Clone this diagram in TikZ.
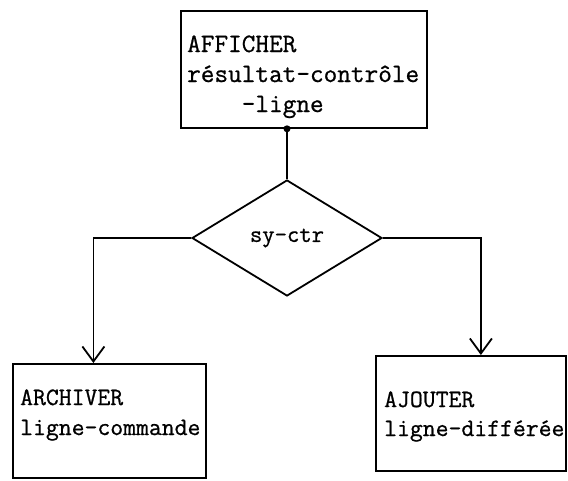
\documentclass[tikz,border=0pt]{standalone}
\usepackage{fontspec}
\newfontfamily\twfont{Latin Modern Mono}[UprightFeatures={FakeBold=0.8}]
\usetikzlibrary{arrows.meta,shapes.geometric}
\begin{document}
\begin{tikzpicture}[x=1pt,y=-1pt,
  box/.style={draw, line width=1.8pt, rectangle, anchor=north west, inner sep=0pt},
  decis/.style={draw, line width=1.8pt, diamond, inner sep=0pt, font=\twfont\fontsize{24}{29}\selectfont},
  lbl/.style={anchor=base west, inner sep=0pt, font=\twfont\fontsize{25}{30}\selectfont},
  biglbl/.style={lbl, font=\twfont\fontsize{26.5}{30}\selectfont},
  conn/.style={line width=1.8pt},
  arr/.style={conn, -{Straight Barb[length=15pt,width=22pt]}}]
\useasboundingbox (0,0) rectangle (568,480);
% boxes
\node[box, minimum width=246pt, minimum height=117pt] (aff) at (180,10) {};
\node[box, minimum width=193pt, minimum height=114pt] (arch) at (12,363) {};
\node[box, minimum width=190pt, minimum height=115pt] (ajou) at (375,355) {};
\node[decis, minimum width=190pt, minimum height=116pt] (dia) at (287,238) {sy-ctr};
% texts
\node[biglbl] (a1) at (187,52) {AFFICHER};
\node[biglbl] (a2) at (187,82) {résultat-contrôle};
\node[biglbl] (a3) at (187,112) {\phantom{xxxx}-ligne};
\node[lbl] (b1) at (20,405) {ARCHIVER};
\node[lbl] (b2) at (20,435) {ligne-commande};
\node[lbl] (c1) at (384,407) {AJOUTER};
\node[lbl] (c2) at (384,436) {ligne-différée};
% connectors
\fill (dia.north |- aff.south) circle (3.5pt);
\draw[conn] (dia.north |- aff.south) -- (dia.north);
\draw[arr] (dia.west) -| ([xshift=-16pt]arch.north);
\draw[arr] (dia.east) -| ([xshift=10pt]ajou.north);
\end{tikzpicture}
\end{document}
